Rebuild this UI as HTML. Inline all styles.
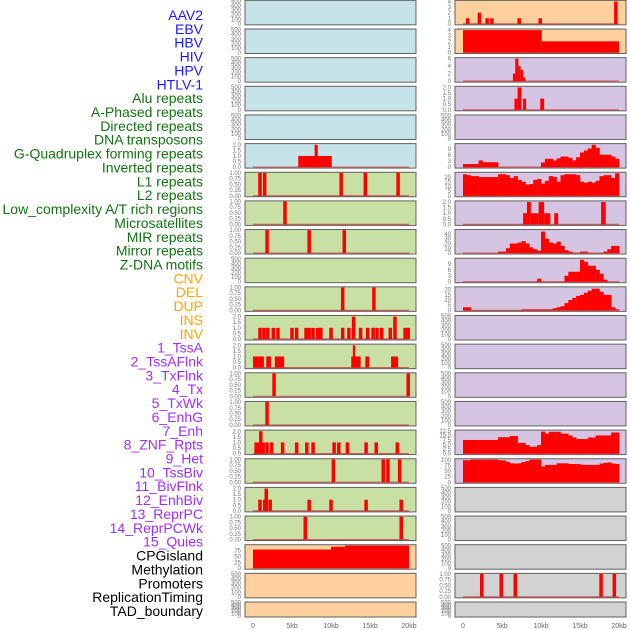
<!DOCTYPE html>
<html><head><meta charset="utf-8">
<style>
html,body{margin:0;padding:0;background:#fff;}
svg{display:block;font-family:"Liberation Sans",sans-serif;}
</style></head>
<body>
<svg id="chart" width="630" height="630" viewBox="0 0 630 630"></svg>
<script>
// ---------- labels ----------
const trackLabels = ["AAV2","EBV","HBV","HIV","HPV","HTLV-1","Alu repeats","A-Phased repeats","Directed repeats","DNA transposons","G-Quadruplex forming repeats","Inverted repeats","L1 repeats","L2 repeats","Low_complexity A/T rich regions","Microsatellites","MIR repeats","Mirror repeats","Z-DNA motifs","CNV","DEL","DUP","INS","INV","1_TssA","2_TssAFlnk","3_TxFlnk","4_Tx","5_TxWk","6_EnhG","7_Enh","8_ZNF_Rpts","9_Het","10_TssBiv","11_BivFlnk","12_EnhBiv","13_ReprPC","14_ReprPCWk","15_Quies","CPGisland","Methylation","Promoters","ReplicationTiming","TAD_boundary"];
const labelGroups = [6,13,5,15,5];
const xTickValues = [0,5,10,15,20];
const xTickLabels = ["0","5kb","10kb","15kb","20kb"];

// ---------- left column data ----------
const gquadSegments = [[5.8,10.1,1],[7.9,8.3,2]];
const invertedSpikes = [[0.9,1],[1.5,1],[11.3,1],[14.4,1],[18.6,1]];
const l1Spikes = [[4.1,1]];
const l2Spikes = [[1.8,1],[7.2,1],[11.7,1]];
const microSpikes = [[11.5,1],[15.5,1]];
const mirSpikes = [[0.9,1],[1.4,1],[1.9,1],[2.6,1],[3.2,1],[5.0,1],[5.6,1],[6.8,1],[7.2,1],[7.7,1],[8.3,1],[8.7,1],[10.0,1],[11.5,1],[12.3,1],[12.9,2],[13.8,1],[14.7,1],[15.4,1],[15.9,1],[16.5,1],[17.6,1],[18.2,2],[19.5,1],[19.9,1]];
const mirrorSegments = [[0,1.4,1],[1.7,2.3,1],[2.8,4.0,1],[12.6,13.8,1],[12.8,13.1,2],[14.4,14.9,1],[17.7,18.6,1]];
const zdnaSpikes = [[2.7,1],[19.9,1]];
const cnvSpikes = [[1.8,1]];
const delSpikes = [[0.4,1],[0.8,1],[1.0,2],[1.3,1],[1.8,1],[2.4,1],[3.8,1],[5.6,1],[6.9,1],[7.7,1],[10.4,1],[11.0,1],[12.1,1],[14.5,1],[15.8,1],[18.5,1]];
const dupSpikes = [[10.3,1],[16.7,1],[17.3,1],[18.8,1]];
const insSpikes = [[0.9,1],[1.7,2],[1.5,1],[2.2,1],[7.2,1],[10.0,1],[14.5,1],[19.0,1]];
const invSpikes = [[6.7,1],[19.0,1]];
const cpgSegments = [[0,10,79],[10,11.8,91],[11.8,20,96]];

// ---------- right column data ----------
const tssASpikes = [[0.6,1],[2.1,2],[3.1,1],[3.7,1],[7.2,1],[9.9,1],[19.6,4]];
const tssAFlnkSegments = [[0,10.1,4],[10.1,20,2]];
const txFlnkSegments = [[6.4,6.7,2],[6.7,7.1,6],[7.1,7.4,4],[7.4,7.7,3],[7.7,8.0,1]];
const txSegments = [[6.6,7.0,1],[7.0,7.5,2],[7.7,8.1,1],[9.9,10.4,1]];
const enhGBins = [1.5,1.5,1.5,1.5,3.3,2.4,2.4,2.4,2.4,0,0,0,0,0,0,0,0,0,0,0,2.3,4.1,4.1,3.3,4.3,5.2,5.2,4.6,3.3,4.9,7.2,8.2,9.2,11,9.5,6.1,6.1,6.1,5.2,4.1];
const enhBins = [23,22,21,21,20,20,20,20,20,23,23,22,19,21,17,15,12,12.5,17,18,13,16,21,20,15,22,23,23,23,22,15,14,15,14,16,21,22,22,19,24];
const znfSegments = [[7.7,8.2,1],[8.2,8.7,2],[8.7,9.7,1],[9.7,10.4,2],[10.4,11.2,1],[11.7,12.2,1],[17.7,18.3,2]];
const hetBins = [0,0,0,0,0,0,0,0,0,3,3,10,20,20,22,25,20,12,8,5,45,30,22,20,24,15,6,3,1,0,3,3,0,0,0,0,3,8,15,15];
const tssBivBins = [0,0,0,0,0,0,0,0,0,0,0,0,0,0,0,0,0,0,0,1.5,0,0,0,0,0,0,3,5,5,5,11,10,8,8,6,4,1,0,0,0];
const bivFlnkBins = [3,3,0,0,0,0,0,0,0,0,0,0,0,0,0,1,1,1,1,1,1,1,1,2,3,4,7,10,12,14,15,17,19,21,21,18,15,15,3,1];
const quiesBins = [7.5,7.5,7.5,7.5,7.5,7.5,7.5,7.5,7.5,9,9,9,9.7,9.7,5.9,5.9,4.7,3.8,3.8,4.7,12.1,11,12,12,12,11,11,10,8.9,8,8,8,8.9,8.9,10,10,10,10,11.6,11.6];
const cpgRightBins = [100,100,103,103,103,103,103,103,103,100,99,93,86,85,86,92,96,103,103,103,72,79,79,79,86,86,86,83,83,83,80,79,79,79,79,85,88,90,85,83];
const promoterSpikes = [[2.4,1],[4.9,1],[6.7,1],[17.7,1],[19.4,1]];

const emptyTicks = [0,100,200,300,400,500];
const unitTicks = [0,0.25,0.5,0.75,1];
const twoTicks = [0,0.5,1,1.5,2];

const BLUE="#c6e3ea", GREEN="#c8e0a4", PEACH="#fed09e", LAV="#d5c5e2", GRAY="#d2d2d2";

const leftPanels = [
 {n:"aav2",bg:BLUE},{n:"ebv",bg:BLUE},{n:"hbv",bg:BLUE},{n:"hiv",bg:BLUE},{n:"hpv",bg:BLUE},
 {n:"gquad",bg:BLUE,segs:gquadSegments,ymax:2.05,ticks:twoTicks,fmt:1},
 {n:"inverted",bg:GREEN,spikes:invertedSpikes,ymax:1,ticks:unitTicks,fmt:2},
 {n:"l1",bg:GREEN,spikes:l1Spikes,ymax:1,ticks:unitTicks,fmt:2},
 {n:"l2",bg:GREEN,spikes:l2Spikes,ymax:1,ticks:unitTicks,fmt:2},
 {n:"low-complexity",bg:GREEN},
 {n:"microsatellites",bg:GREEN,spikes:microSpikes,ymax:1,ticks:unitTicks,fmt:2},
 {n:"mir",bg:GREEN,spikes:mirSpikes,ymax:2.05,ticks:twoTicks,fmt:1},
 {n:"mirror",bg:GREEN,segs:mirrorSegments,ymax:2.05,ticks:twoTicks,fmt:1},
 {n:"zdna",bg:GREEN,spikes:zdnaSpikes,ymax:1,ticks:unitTicks,fmt:2},
 {n:"cnv",bg:GREEN,spikes:cnvSpikes,ymax:1,ticks:unitTicks,fmt:2},
 {n:"del",bg:GREEN,spikes:delSpikes,ymax:2.05,ticks:twoTicks,fmt:1},
 {n:"dup",bg:GREEN,spikes:dupSpikes,ymax:1,ticks:unitTicks,fmt:2},
 {n:"ins",bg:GREEN,spikes:insSpikes,ymax:2.05,ticks:twoTicks,fmt:1},
 {n:"inv",bg:GREEN,spikes:invSpikes,ymax:1,ticks:unitTicks,fmt:2},
 {n:"cpgisland",bg:PEACH,segs:cpgSegments,ymax:97,ticks:[0,25,50,75],fmt:0},
 {n:"methylation",bg:PEACH},{n:"promoters",bg:PEACH,short:true}
];
const rightPanels = [
 {n:"tssa",bg:PEACH,spikes:tssASpikes,ymax:4.1,ticks:[0,1,2,3,4],fmt:0},
 {n:"tssaflnk",bg:PEACH,segs:tssAFlnkSegments,ymax:4.1,ticks:[0,1,2,3,4],fmt:0},
 {n:"txflnk",bg:LAV,segs:txFlnkSegments,ymax:6.1,ticks:[0,2,4,6],fmt:0},
 {n:"tx",bg:LAV,segs:txSegments,ymax:2.05,ticks:twoTicks,fmt:1},
 {n:"txwk",bg:LAV},
 {n:"enhg",bg:LAV,bins:enhGBins,ymax:11.3,ticks:[0,3,6,9],fmt:0},
 {n:"enh",bg:LAV,bins:enhBins,ymax:24.5,ticks:[0,5,10,15,20],fmt:0},
 {n:"znf",bg:LAV,segs:znfSegments,ymax:2.05,ticks:twoTicks,fmt:1},
 {n:"het",bg:LAV,bins:hetBins,ymax:48,ticks:[0,10,20,30,40],fmt:0},
 {n:"tssbiv",bg:LAV,bins:tssBivBins,ymax:11.5,ticks:[0,3,6,9],fmt:0},
 {n:"bivflnk",bg:LAV,bins:bivFlnkBins,ymax:22.2,ticks:[0,5,10,15,20],fmt:0},
 {n:"enhbiv",bg:LAV},{n:"reprpc",bg:LAV},{n:"reprpcwk",bg:LAV},{n:"quies-a",bg:LAV},
 {n:"quies",bg:LAV,bins:quiesBins,ymax:12.6,ticks:[0,2.5,5,7.5,10,12.5],fmt:1},
 {n:"cpg-right",bg:LAV,bins:cpgRightBins,ymax:104,ticks:[0,25,50,75,100],fmt:0},
 {n:"methylation-right",bg:GRAY},{n:"gray-a",bg:GRAY},{n:"gray-b",bg:GRAY},
 {n:"promoters-right",bg:GRAY,spikes:promoterSpikes,ymax:1,ticks:unitTicks,fmt:2},
 {n:"tad-right",bg:GRAY,short:true}
];

const svg = document.getElementById('chart');
const NS = "http://www.w3.org/2000/svg";
function mk(tag, attrs, parent){const e=document.createElementNS(NS,tag);for(const k in attrs)e.setAttribute(k,attrs[k]);(parent||svg).appendChild(e);return e;}

// labels
const groupColors = ["#1a1aff","#137313","#ffa500","#a030f0","#000000"];
let li=0;
labelGroups.forEach((cnt,g)=>{for(let k=0;k<cnt;k++){
  const t=mk('text',{x:203,y:15+li*13.86+5,'text-anchor':'end','font-size':'14',fill:groupColors[g]});
  t.textContent=trackLabels[li];
  
  
  li++;}});

function drawColumn(panels, px, colName){
  const pw=171, kb0=px+8, kbScale=7.8;
  const xs=kb=>kb0+kb*kbScale;
  panels.forEach((p,i)=>{
    const top=0.35+28.65*i, h=p.short?15:24.5;
    const g=mk('g',{});
    
    
    mk('rect',{x:px,y:top,width:pw,height:h,fill:p.bg,stroke:'#606060','stroke-width':'1'},g);
    const yb=top+h-1, yt=top+0.6;
    const ymax=p.ymax||500;
    const ys=v=>yb-(v/ymax)*(yb-yt);
    const ticks=p.ticks||emptyTicks;
    ticks.forEach(v=>{
      const t=mk('text',{x:px-4,y:ys(v)+2,'text-anchor':'end','font-size':'6',fill:'#777'},g);
      t.textContent=p.fmt!==undefined?v.toFixed(p.fmt):String(v);
      
      
    });
    const hasData=p.segs||p.spikes||p.bins;
    if(hasData){
      const bl=mk('line',{x1:xs(0),x2:xs(20),y1:yb,y2:yb,stroke:'#c84040','stroke-width':'1.2','stroke-opacity':'0.8'},g);
      
      
    }
    if(p.segs) p.segs.forEach(s=>{
      const r=mk('rect',{x:xs(s[0]),y:ys(s[2]),width:xs(s[1])-xs(s[0]),height:yb-ys(s[2]),fill:'#ff0000'},g);
      
      
    });
    if(p.spikes) p.spikes.forEach(s=>{
      const w=0.45;
      const r=mk('rect',{x:xs(s[0]-w/2),y:ys(s[1]),width:w*kbScale,height:yb-ys(s[1]),fill:'#ff0000'},g);
      
      
    });
    if(p.bins){
      const bw=20/p.bins.length;
      p.bins.forEach((v,k)=>{
        if(v<=0) return;
        const r=mk('rect',{x:xs(k*bw),y:ys(v),width:bw*kbScale+0.3,height:yb-ys(v),fill:'#ff0000'},g);
        
        
      });
    }
  });
  xTickValues.forEach((v,k)=>{
    const t=mk('text',{x:xs(v),y:628,'text-anchor':'middle','font-size':'7',fill:'#666'});
    t.textContent=xTickLabels[k];
    
    
  });
}
drawColumn(leftPanels,245,'left');
drawColumn(rightPanels,455,'right');
</script>
</body></html>
